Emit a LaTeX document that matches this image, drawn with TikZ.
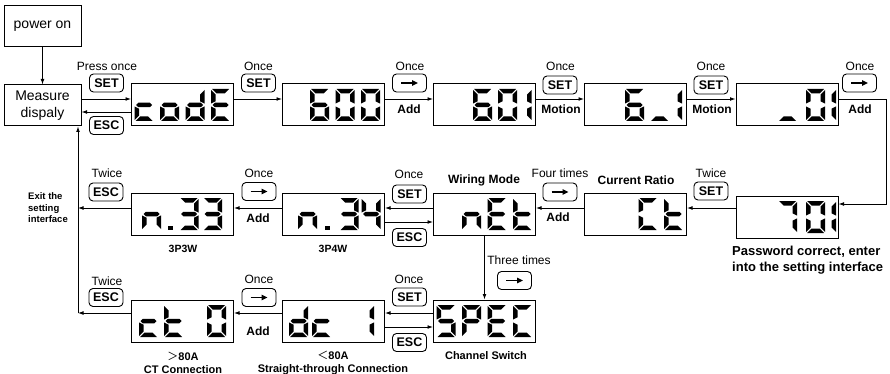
\documentclass[tikz,border=0pt]{standalone}
\usepackage{fontspec}
\setmainfont{Liberation Sans}
\newfontfamily\cjkf{Noto Sans CJK SC}
\usetikzlibrary{arrows.meta,calc}

\tikzset{
  disp/.style={draw=black, line width=1pt, minimum width=102pt, minimum height=42pt, inner sep=0pt},
  plainbox/.style={draw=black, line width=1pt, minimum width=77pt, minimum height=41pt, inner sep=0pt, align=center, font=\fontsize{14}{17}\selectfont},
  btn/.style={draw=black, line width=0.9pt, rounded corners=4pt, minimum width=34pt, minimum height=18pt, inner sep=0pt, font=\bfseries\fontsize{12.5}{12.5}\selectfont},
  lbl/.style={font=\fontsize{12}{12}\selectfont, inner sep=0pt},
  blbl/.style={font=\bfseries\fontsize{12}{12}\selectfont, inner sep=0pt},
  slbl/.style={font=\bfseries\fontsize{11}{12.5}\selectfont, inner sep=0pt, align=center},
  conn/.style={line width=0.8pt, -{Latex[length=5.5pt,width=3.8pt]}},
  btnarr/.style={line width=1.5pt, -{Triangle[length=6pt,width=5.5pt]}},
}

% seven segment pieces (digit 19 x 32, y downwards)
\def\zsega{\fill (1,0) -- (18,0) -- (13.5,4.5) -- (5.5,4.5) -- cycle;}
\def\zsegb{\fill (19,1) -- (14.5,5.5) -- (14.5,12.3) -- (19,14.6) -- cycle;}
\def\zsegc{\fill (19,31) -- (14.5,26.5) -- (14.5,19.7) -- (19,17.4) -- cycle;}
\def\zsegd{\fill (1,32) -- (18,32) -- (13.5,27.5) -- (5.5,27.5) -- cycle;}
\def\zsege{\fill (0,31) -- (4.5,26.5) -- (4.5,19.7) -- (0,17.4) -- cycle;}
\def\zsegf{\fill (0,1) -- (4.5,5.5) -- (4.5,12.3) -- (0,14.6) -- cycle;}
\def\zsegg{\fill (1.5,16) -- (3.75,13.75) -- (15.25,13.75) -- (17.5,16) -- (15.25,18.25) -- (3.75,18.25) -- cycle;}
\def\zsegp{\fill (0,27.5) rectangle (4.5,32);}
\newcommand{\sevseg}[3]{\begin{scope}[shift={(#1,#2)}]\foreach \s in {#3}{\csname zseg\s\endcsname}\end{scope}}
\newcommand{\arrbtn}[3]{\node[btn] (#1) at (#2,#3) {};
  \draw[btnarr] ([xshift=-8.5pt]#1.center) -- ([xshift=8.5pt]#1.center);}

\begin{document}
\begin{tikzpicture}[x=1pt,y=-1pt]
\useasboundingbox (0,0) rectangle (890,374);

% ---- plain boxes
\node[plainbox] (pwr) at (42.5,26) {power on};
\node[plainbox] (meas) at (42.5,105.5) {Measure\\dispaly};

% ---- displays
\node[disp] (code) at (182.5,105) {};
\node[disp] (d600) at (333.5,105) {};
\node[disp] (d601) at (484.5,105) {};
\node[disp] (d61)  at (635.5,105) {};
\node[disp] (d01)  at (787,105) {};
\node[disp] (d701) at (787,217) {};
\node[disp] (dCt)  at (635.5,214) {};
\node[disp] (dnEt) at (484.5,214) {};
\node[disp] (dn34) at (333.5,214) {};
\node[disp] (dn33) at (182.5,214) {};
\node[disp] (dSPEC) at (484.5,321) {};
\node[disp] (ddc1) at (333.5,321) {};
\node[disp] (dct0) at (182.5,321) {};

% ---- digits
% codE
\sevseg{134.5}{89}{d,e,g}
\sevseg{160}{89}{c,d,e,g}
\sevseg{185.5}{89}{b,c,d,e,g}
\sevseg{211}{89}{a,d,e,f,g}
% 600
\sevseg{310}{89}{a,c,d,e,f,g}
\sevseg{335.5}{89}{a,b,c,d,e,f}
\sevseg{361}{89}{a,b,c,d,e,f}
% 601
\sevseg{473}{89}{a,c,d,e,f,g}
\sevseg{498}{89}{a,b,c,d,e,f}
\sevseg{512.5}{89}{b,c}
% 6_1
\sevseg{625}{89}{a,c,d,e,f,g}
\sevseg{650}{89}{d}
\sevseg{663}{89}{b,c}
% _01
\sevseg{778}{89}{d}
\sevseg{806}{89}{a,b,c,d,e,f}
\sevseg{817}{89}{b,c}
% 701
\sevseg{778}{201}{a,b,c}
\sevseg{806}{201}{a,b,c,d,e,f}
\sevseg{817}{201}{b,c}
% Ct
\sevseg{638.5}{198}{a,d,e,f}
\sevseg{664}{198}{d,e,f,g}
% nEt
\sevseg{462}{198}{c,e,g}
\sevseg{487.5}{198}{a,d,e,f,g}
\sevseg{513}{198}{d,e,f,g}
% n.34
\sevseg{298}{198}{c,e,g}
\sevseg{325}{198}{p}
\sevseg{339.5}{198}{a,b,c,d,g}
\sevseg{361.5}{198}{b,c,f,g}
% n.33
\sevseg{142}{198}{c,e,g}
\sevseg{168}{198}{p}
\sevseg{179.5}{198}{a,b,c,d,g}
\sevseg{203}{198}{a,b,c,d,g}
% SPEC
\sevseg{436.5}{305}{a,c,d,f,g}
\sevseg{462}{305}{a,b,e,f,g}
\sevseg{487.5}{305}{a,d,e,f,g}
\sevseg{513}{305}{a,d,e,f}
% dc 1
\sevseg{289}{305}{b,c,d,e,g}
\sevseg{312}{305}{d,e,g}
\sevseg{355}{305}{b,c}
% ct 0
\sevseg{139}{305}{d,e,g}
\sevseg{164}{305}{d,e,f,g}
\sevseg{207}{305}{a,b,c,d,e,f}

% ---- helper coordinates
\coordinate (yA) at (0,99);
\coordinate (yB) at (0,112);
\coordinate (rt) at (886,99);
\coordinate (rt2) at (886,204);
\coordinate (m1) at (0,208);
\coordinate (m2) at (0,222);
\coordinate (q1) at (0,313);
\coordinate (q2) at (0,327);
\coordinate (lx) at (78,0);

% ---- connectors
\draw[conn] (pwr) -- (meas);
\draw[conn] (meas.east |- yA) -- (code.west |- yA);
\draw[conn] (code.west |- yB) -- (meas.east |- yB);
\draw[conn] (code.east |- yA) -- (d600.west |- yA);
\draw[conn] (d600.east |- yA) -- (d601.west |- yA);
\draw[conn] (d601.east |- yA) -- (d61.west |- yA);
\draw[conn] (d61.east |- yA) -- (d01.west |- yA);
\draw[conn] (d01.east |- yA) -- (rt) -- (rt2) -- (d701.east |- rt2);
\draw[conn] (d701.west |- m1) -- (dCt.east |- m1);
\draw[conn] (dCt.west |- m1) -- (dnEt.east |- m1);
\draw[conn] (dnEt.west |- m1) -- (dn34.east |- m1);
\draw[conn] (dn34.east |- m2) -- (dnEt.west |- m2);
\draw[conn] (dn34.west |- m1) -- (dn33.east |- m1);
\draw[conn] (dn33.west |- m1) -- (lx |- m1);
\draw[conn] (dnEt.south) -- (dSPEC.north);
\draw[conn] (dSPEC.west |- q1) -- (ddc1.east |- q1);
\draw[conn] (ddc1.east |- q2) -- (dSPEC.west |- q2);
\draw[conn] (ddc1.west |- q1) -- (dct0.east |- q1);
\draw[conn] (dct0.west |- q1) -- (lx |- q1);
\draw[conn] (lx |- q1) -- (lx |- meas.south);

% ---- top row labels
\node[lbl] (t1) at (107,66) {Press once};
\node[btn] (b1) at (106.5,83) {SET};
\node[btn] (b2) at (106.5,125.5) {ESC};
\node[lbl] (t2) at (258.5,66) {Once};
\node[btn] (b3) at (258.5,83) {SET};
\node[lbl] (t3) at (410,66) {Once};
\arrbtn{b4}{409.5}{83}
\node[blbl] (a1) at (409,109) {Add};
\node[lbl] (t4) at (560.5,66) {Once};
\node[btn] (b5) at (560,85) {SET};
\node[blbl] (mo1) at (561,109) {Motion};
\node[lbl] (t5) at (711,66) {Once};
\node[btn] (b6) at (711,85) {SET};
\node[blbl] (mo2) at (712,109) {Motion};
\node[lbl] (t6) at (860,66) {Once};
\arrbtn{b7}{859.5}{83}
\node[blbl] (a2) at (860,109) {Add};

% ---- middle row labels
\node[lbl] (t7) at (711,173) {Twice};
\node[btn] (b8) at (711,191) {SET};
\node[blbl] (cr) at (636,180) {Current Ratio};
\node[lbl] (t8) at (560,173) {Four times};
\arrbtn{b9}{560}{192}
\node[blbl] (a3) at (558,217) {Add};
\node[blbl] (wm) at (484,180) {Wiring Mode};
\node[lbl] (t9) at (409,174) {Once};
\node[btn] (b10) at (409.5,194) {SET};
\node[btn] (b11) at (409.5,237.5) {ESC};
\node[lbl] (t10) at (259,173) {Once};
\arrbtn{b12}{259}{191.5}
\node[blbl] (a4) at (258,218) {Add};
\node[lbl] (t11) at (107,173) {Twice};
\node[btn] (b13) at (106,192) {ESC};
\node[anchor=west, align=left, inner sep=0pt, font=\bfseries\fontsize{9.5}{11.5}\selectfont] (exit) at (28,208) {Exit the\\setting\\interface};
\node[font=\bfseries\fontsize{10.5}{10.5}\selectfont, inner sep=0pt] (w33) at (183,249) {3P3W};
\node[font=\bfseries\fontsize{10.5}{10.5}\selectfont, inner sep=0pt] (w34) at (333,249) {3P4W};
\node[anchor=west, align=left, inner sep=0pt, font=\bfseries\fontsize{13}{16}\selectfont] (pw) at (732,260) {Password correct, enter\\into the setting interface};

% ---- bottom row labels
\node[lbl] (t12) at (519,260) {Three times};
\arrbtn{b14}{514.5}{280.5}
\node[lbl] (t13) at (409,279) {Once};
\node[btn] (b15) at (409.5,297) {SET};
\node[btn] (b16) at (409.5,342.5) {ESC};
\node[slbl] (cs) at (486,356) {Channel Switch};
\node[lbl] (t14) at (259,279) {Once};
\arrbtn{b17}{259}{297.5}
\node[blbl] (a5) at (258,331) {Add};
\node[lbl] (t15) at (107,281) {Twice};
\node[btn] (b18) at (106,297.5) {ESC};
\node[slbl] (ct) at (183,363) {{\cjkf\mdseries ＞}80A\\CT Connection};
\node[slbl] (st) at (333,363) {{\cjkf\mdseries ＜}80A\\Straight-through Connection};
\end{tikzpicture}
\end{document}
